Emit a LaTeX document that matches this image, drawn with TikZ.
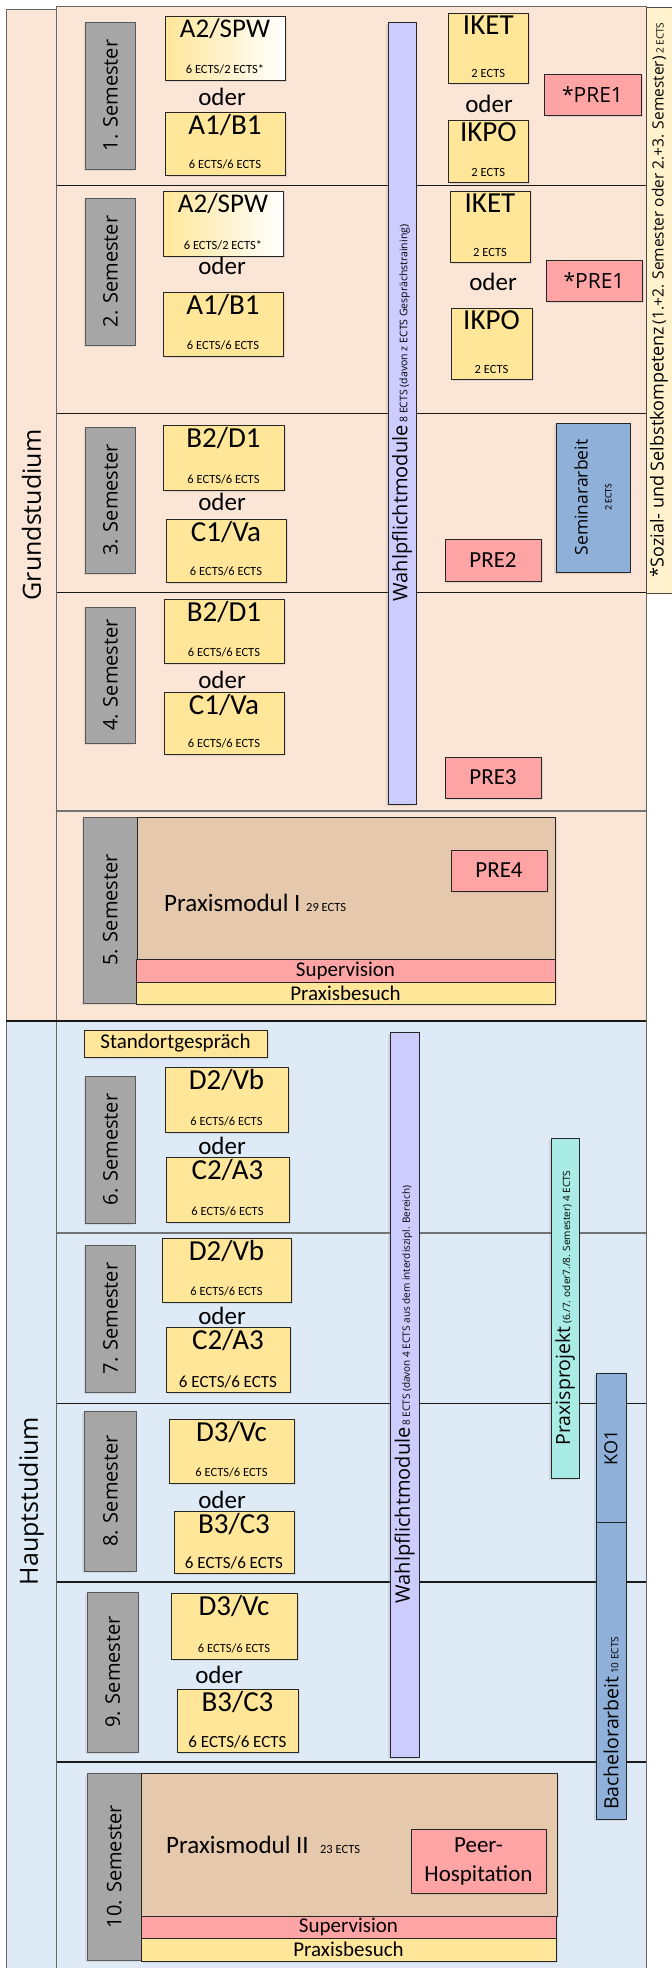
\documentclass[tikz,border=0pt]{standalone}
\usepackage{fontspec}
\setmainfont{Carlito}
\newfontfamily\opensans{Open Sans}
\usetikzlibrary{shadows}

\definecolor{grundbg}{HTML}{FBE5D6}
\definecolor{hauptbg}{HTML}{DEEBF7}
\definecolor{semgrau}{HTML}{A6A6A6}
\definecolor{modgelb}{HTML}{FFE699}
\definecolor{prerot}{HTML}{FFA4A4}
\definecolor{wahllila}{HTML}{CCCCFF}
\definecolor{arbeitblau}{HTML}{8FB0D9}
\definecolor{praxisbraun}{HTML}{E6C9AD}
\definecolor{projekttuerkis}{HTML}{A9EBE5}
\definecolor{hinweisgelb}{HTML}{FFF2CC}

\tikzset{
  kasten/.style={draw=black!85, line width=1pt, inner sep=0pt},
  schatten/.style={drop shadow={opacity=0.18, shadow xshift=2pt, shadow yshift=-2pt}},
  schattenrot/.style={drop shadow={opacity=0.18, shadow xshift=-2pt, shadow yshift=-2pt}},
  spalte/.style={draw=black!60, line width=0.8pt, rotate=90, inner sep=0pt, font=\opensans\fontsize{25}{30}\selectfont},
  semester/.style={kasten, draw=black!65, fill=semgrau, rotate=90, schattenrot, font=\opensans\fontsize{20}{24}\selectfont},
  modul/.style={kasten, fill=modgelb, schatten},
  verlauf/.style={kasten, left color=modgelb, right color=white, schatten},
  titel/.style={anchor=north, inner sep=3pt, font=\fontsize{29}{32}\selectfont},
  ects/.style={anchor=south, inner sep=6pt, font=\fontsize{12.5}{14}\selectfont},
  ectsgross/.style={anchor=south, inner sep=4pt, font=\fontsize{17}{20}\selectfont},
  oder/.style={inner sep=0pt, font=\fontsize{25}{28}\selectfont},
  pre/.style={kasten, fill=prerot, schatten, font=\fontsize{23}{26}\selectfont},
  balken/.style={kasten, rotate=90, schattenrot, font=\opensans\fontsize{10}{12}\selectfont},
  praxis/.style={kasten, fill=praxisbraun, schatten},
  leiste/.style={kasten, schatten, font=\fontsize{21}{24}\selectfont},
  trenn/.style={line width=1pt, draw=black!90},
}

\begin{document}
\begin{tikzpicture}[x=1pt, y=-1pt]
    \useasboundingbox (0,0) rectangle (672,1968);
    \fill[white] (0,0) rectangle (672,1968);

    % Hintergrund
    \fill[grundbg] (56.6,6.7) rectangle (646,1021);
    \fill[hauptbg] (56.6,1021) rectangle (646,1980);
    \draw[black!60, line width=0.8pt] (56.6,1980) -- (56.6,6.7) -- (646,6.7) -- (646,1980);
    \node[spalte, fill=grundbg, minimum width=1012pt, minimum height=50.2pt] (Grund) at (31.5,515) {Grundstudium};
    \node[spalte, fill=hauptbg, minimum width=960pt, minimum height=50.2pt] (Haupt) at (31.5,1501) {Hauptstudium};

    % Trennlinien
    \draw[trenn] (56.6,185) -- (646,185);
    \draw[trenn] (56.6,413) -- (646,413);
    \draw[trenn] (56.6,592) -- (646,592);
    \draw[trenn, black!55, line width=1.5pt] (56.6,811) -- (646,811);
    \draw[trenn, line width=1.6pt] (6.4,1021) -- (646,1021);
    \draw[trenn, black!55, line width=1.3pt] (56.6,1233) -- (646,1233);
    \draw[trenn] (56.6,1403) -- (646,1403);
    \draw[trenn, line width=2pt] (56.6,1582) -- (646,1582);
    \draw[trenn, line width=2pt] (56.6,1762) -- (646,1762);

    \node[kasten, fill=hinweisgelb, draw=black!70, rotate=90, minimum width=586pt, minimum height=26pt, font=\opensans] (Hinweis) at (659,300) {{\fontsize{18}{20}\selectfont *Sozial- und Selbstkompetenz} {\fontsize{15.5}{18}\selectfont (1.+2. Semester oder 2.+3. Semester)} {\fontsize{10}{12}\selectfont 2 ECTS}};

    % 1. Semester
    \node[semester, minimum width=147pt, minimum height=50pt] (Sem1) at (110.5,95.5) {1. Semester};
    \node[verlauf, minimum width=120pt, minimum height=64pt, label={[titel, font=\fontsize{27}{30}\selectfont]north:A2/SPW}, label={[ects]south:6 ECTS/2 ECTS*}] (A2SPWa) at (225,48) {};
    \node[oder] (oderA1) at (222,97) {oder};
    \node[modul, minimum width=120pt, minimum height=63pt, label={[titel]north:A1/B1}, label={[ects]south:6 ECTS/6 ECTS}] (A1B1a) at (225,143.5) {};
    \node[modul, minimum width=80pt, minimum height=70pt, label={[titel]north:IKET}, label={[ects]south:2 ECTS}] (IKETa) at (488.3,48) {};
    \node[oder] (oderB1) at (489,104) {oder};
    \node[modul, minimum width=80pt, minimum height=62pt, label={[titel]north:IKPO}, label={[ects]south:2 ECTS}] (IKPOa) at (488.3,151) {};
    \node[pre, font=\opensans\fontsize{21}{24}\selectfont, minimum width=97pt, minimum height=41pt] (PREeinsA) at (592.5,94.5) {*PRE1};

    % 2. Semester
    \node[semester, minimum width=147pt, minimum height=50pt] (Sem2) at (110.5,271.5) {2. Semester};
    \node[verlauf, minimum width=120pt, minimum height=65pt, label={[titel, font=\fontsize{27}{30}\selectfont]north:A2/SPW}, label={[ects]south:6 ECTS/2 ECTS*}] (A2SPWb) at (223,223.5) {};
    \node[oder] (oderA2) at (222,266) {oder};
    \node[modul, minimum width=120pt, minimum height=64pt, label={[titel]north:A1/B1}, label={[ects]south:6 ECTS/6 ECTS}] (A1B1b) at (223,324) {};
    \node[modul, minimum width=80pt, minimum height=71pt, label={[titel]north:IKET}, label={[ects]south:2 ECTS}] (IKETb) at (490,226.5) {};
    \node[oder] (oderB2) at (493,282) {oder};
    \node[modul, minimum width=81pt, minimum height=71pt, label={[titel]north:IKPO}, label={[ects]south:2 ECTS}] (IKPOb) at (491.5,343.5) {};
    \node[pre, font=\opensans\fontsize{21}{24}\selectfont, minimum width=96pt, minimum height=41pt] (PREeinsB) at (594,280.5) {*PRE1};

    % 3. Semester
    \node[semester, minimum width=146pt, minimum height=50pt] (Sem3) at (110.5,500) {3. Semester};
    \node[modul, minimum width=121pt, minimum height=65pt, label={[titel]north:B2/D1}, label={[ects]south:6 ECTS/6 ECTS}] (B2D1a) at (223.5,457.5) {};
    \node[oder] (oderA3) at (222,502) {oder};
    \node[modul, minimum width=120pt, minimum height=63pt, label={[titel]north:C1/Va}, label={[ects]south:6 ECTS/6 ECTS}] (C1Vaa) at (226,550.5) {};
    \node[pre, minimum width=96pt, minimum height=42pt] (PREzwei) at (493,560) {PRE2};
    \node[kasten, fill=arbeitblau, rotate=90, schattenrot, align=center, minimum width=149pt, minimum height=74pt, font=\opensans\fontsize{17.5}{20}\selectfont] (Seminar) at (593,497.5) {Seminararbeit\\[4pt]{\normalfont\fontsize{10}{12}\selectfont 2 ECTS}};

    % 4. Semester
    \node[semester, minimum width=136pt, minimum height=50pt] (Sem4) at (110.5,675) {4. Semester};
    \node[modul, minimum width=120pt, minimum height=64pt, label={[titel]north:B2/D1}, label={[ects]south:6 ECTS/6 ECTS}] (B2D1b) at (224,631) {};
    \node[oder] (oderA4) at (222,680) {oder};
    \node[modul, minimum width=120pt, minimum height=62pt, label={[titel]north:C1/Va}, label={[ects]south:6 ECTS/6 ECTS}] (C1Vab) at (224,723) {};
    \node[pre, minimum width=96pt, minimum height=41pt] (PREdrei) at (493,777.5) {PRE3};

    \node[balken, fill=wahllila, minimum width=782pt, minimum height=28pt] (WahlA) at (402,413) {{\fontsize{20}{24}\selectfont Wahlpflichtmodule} {\fontsize{10.5}{12}\selectfont 8 ECTS (davon z ECTS Gesprächstraining)}};

    % 5. Semester
    \node[semester, minimum width=186pt, minimum height=53.4pt] (Sem5) at (110.3,910) {5. Semester};
    \node[praxis, minimum width=418pt, minimum height=142pt] (PraxisI) at (346,888) {};
    \node[anchor=base west, inner sep=0pt, font=\fontsize{25}{28}\selectfont] (PraxisItext) at (164,911) {Praxismodul I {\fontsize{12.5}{14}\selectfont 29 ECTS}};
    \node[pre, minimum width=96pt, minimum height=41pt] (PREvier) at (499,870.5) {PRE4};
    \node[leiste, fill=prerot, minimum width=419pt, minimum height=23pt] (SupI) at (345.5,970.5) {Supervision};
    \node[leiste, fill=modgelb, minimum width=419pt, minimum height=22pt] (BesuchI) at (345.5,993) {Praxisbesuch};

    % 6. Semester
    \node[modul, font=\fontsize{21}{24}\selectfont, minimum width=183pt, minimum height=27pt] (Standort) at (175.5,1043.5) {Standortgespräch};
    \node[semester, minimum width=147pt, minimum height=50pt] (Sem6) at (110.5,1149.5) {6. Semester};
    \node[modul, minimum width=123pt, minimum height=65pt, label={[titel]north:D2/Vb}, label={[ects]south:6 ECTS/6 ECTS}] (D2Vba) at (226.5,1099.5) {};
    \node[oder] (oderA6) at (222,1146) {oder};
    \node[modul, minimum width=123pt, minimum height=65pt, label={[titel]north:C2/A3}, label={[ects]south:6 ECTS/6 ECTS}] (C2A3a) at (227.5,1189.5) {};

    % 7. Semester
    \node[semester, minimum width=147pt, minimum height=50pt] (Sem7) at (110.5,1318.5) {7. Semester};
    \node[modul, minimum width=129pt, minimum height=64pt, label={[titel]north:D2/Vb}, label={[ects]south:6 ECTS/6 ECTS}] (D2Vbb) at (226.5,1270) {};
    \node[oder] (oderA7) at (222,1316) {oder};
    \node[modul, minimum width=124pt, minimum height=65pt, label={[titel]north:C2/A3}, label={[ectsgross]south:6 ECTS/6 ECTS}] (C2A3b) at (228,1359.5) {};

    % 8. Semester
    \node[semester, minimum width=160pt, minimum height=52pt] (Sem8) at (110.4,1491) {8. Semester};
    \node[modul, minimum width=125pt, minimum height=64pt, label={[titel]north:D3/Vc}, label={[ects]south:6 ECTS/6 ECTS}] (D3Vca) at (231.5,1451) {};
    \node[oder] (oderA8) at (222,1500) {oder};
    \node[modul, minimum width=120pt, minimum height=62pt, label={[titel]north:B3/C3}, label={[ectsgross]south:6 ECTS/6 ECTS}] (B3C3a) at (234,1542) {};

    % 9. Semester
    \node[semester, minimum width=160pt, minimum height=51.4pt] (Sem9) at (112.7,1672) {9. Semester};
    \node[modul, minimum width=126pt, minimum height=66pt, label={[titel]north:D3/Vc}, label={[ects]south:6 ECTS/6 ECTS}] (D3Vcb) at (234,1626) {};
    \node[oder] (oderA9) at (219,1675) {oder};
    \node[modul, minimum width=121pt, minimum height=63pt, label={[titel]north:B3/C3}, label={[ectsgross]south:6 ECTS/6 ECTS}] (B3C3b) at (237.5,1720.5) {};

    \node[balken, fill=wahllila, minimum width=725pt, minimum height=29pt] (WahlB) at (404.5,1394.5) {{\fontsize{20}{24}\selectfont Wahlpflichtmodule}\,8 ECTS (davon 4 ECTS aus dem interdiszipl. Bereich)};
    \node[balken, fill=projekttuerkis, minimum width=340pt, minimum height=28pt] (Projekt) at (565,1308) {{\fontsize{19.5}{22}\selectfont Praxisprojekt} (6./7. oder7./8. Semester) 4 ECTS};
    \node[balken, fill=arbeitblau, minimum width=149pt, minimum height=30pt, font=\opensans\fontsize{18}{20}\selectfont] (KOeins) at (611,1447.5) {KO1};
    \node[balken, fill=arbeitblau, minimum width=297pt, minimum height=30pt] (Bachelor) at (611,1670.5) {};
    \node[rotate=90, anchor=west, inner sep=0pt, font=\opensans\fontsize{10}{12}\selectfont] (BachelorText) at (611,1810) {{\fontsize{19.5}{22}\selectfont Bachelorarbeit} 10 ECTS};

    % 10. Semester
    \node[semester, minimum width=187pt, minimum height=54.4pt] (Sem10) at (114.2,1866.5) {10. Semester};
    \node[praxis, minimum width=416pt, minimum height=143pt] (PraxisII) at (349,1844.5) {};
    \node[anchor=base west, inner sep=0pt, font=\fontsize{25}{28}\selectfont] (PraxisIItext) at (166,1853) {Praxismodul II\ \ {\fontsize{12.5}{14}\selectfont 23 ECTS}};
    \node[pre, align=center, font=\fontsize{23}{29}\selectfont, minimum width=135pt, minimum height=64pt] (Peer) at (478.5,1861) {Peer-\\Hospitation};
    \node[leiste, fill=prerot, minimum width=415pt, minimum height=22pt] (SupII) at (348.5,1927) {Supervision};
    \node[leiste, fill=modgelb, minimum width=415pt, minimum height=23pt] (BesuchII) at (348.5,1949.5) {Praxisbesuch};
\end{tikzpicture}
\end{document}
